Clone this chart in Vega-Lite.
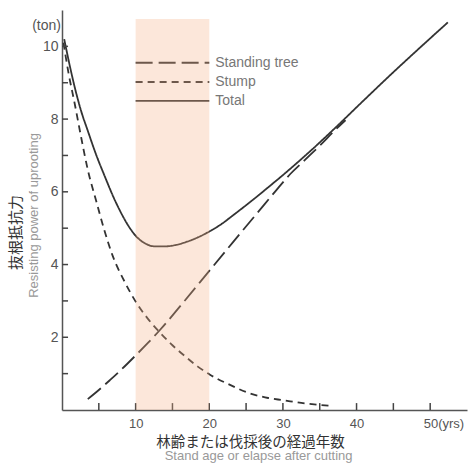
{
  "$schema": "https://vega.github.io/schema/vega-lite/v6.json",
  "width": 405,
  "height": 400,
  "autosize": {"type": "none"},
  "padding": {"left": 62, "top": 10, "right": 8, "bottom": 53},
  "background": "white",
  "config": {"view": {"stroke": null}, "font": "Liberation Sans"},
  "datasets": {
    "curves": [
      {"series": "Total", "x": 0.3, "y": 10.2},
      {"series": "Total", "x": 1, "y": 9.52},
      {"series": "Total", "x": 1.7, "y": 8.9},
      {"series": "Total", "x": 2.6, "y": 8.22},
      {"series": "Total", "x": 3.5, "y": 7.68},
      {"series": "Total", "x": 4.6, "y": 7.04},
      {"series": "Total", "x": 5.8, "y": 6.43},
      {"series": "Total", "x": 7, "y": 5.85},
      {"series": "Total", "x": 8, "y": 5.43},
      {"series": "Total", "x": 9, "y": 5.07},
      {"series": "Total", "x": 10.1, "y": 4.77},
      {"series": "Total", "x": 11.3, "y": 4.58},
      {"series": "Total", "x": 12.6, "y": 4.5},
      {"series": "Total", "x": 14, "y": 4.5},
      {"series": "Total", "x": 15.5, "y": 4.54},
      {"series": "Total", "x": 17, "y": 4.63},
      {"series": "Total", "x": 18.7, "y": 4.77},
      {"series": "Total", "x": 20.1, "y": 4.92},
      {"series": "Total", "x": 21.7, "y": 5.12},
      {"series": "Total", "x": 23.2, "y": 5.35},
      {"series": "Total", "x": 24.8, "y": 5.6},
      {"series": "Total", "x": 26.3, "y": 5.84},
      {"series": "Total", "x": 27.8, "y": 6.09},
      {"series": "Total", "x": 30, "y": 6.46},
      {"series": "Total", "x": 32, "y": 6.81},
      {"series": "Total", "x": 34.1, "y": 7.19},
      {"series": "Total", "x": 36.8, "y": 7.7},
      {"series": "Total", "x": 40.9, "y": 8.5},
      {"series": "Total", "x": 45, "y": 9.29},
      {"series": "Total", "x": 50, "y": 10.22},
      {"series": "Total", "x": 52.4, "y": 10.66},
      {"series": "Standing tree", "x": 3.5, "y": 0.3},
      {"series": "Standing tree", "x": 5, "y": 0.55},
      {"series": "Standing tree", "x": 6.5, "y": 0.82},
      {"series": "Standing tree", "x": 8, "y": 1.1},
      {"series": "Standing tree", "x": 10.1, "y": 1.52},
      {"series": "Standing tree", "x": 11.7, "y": 1.85},
      {"series": "Standing tree", "x": 13.3, "y": 2.2},
      {"series": "Standing tree", "x": 16.4, "y": 2.94},
      {"series": "Standing tree", "x": 20.1, "y": 3.85},
      {"series": "Standing tree", "x": 23.2, "y": 4.61},
      {"series": "Standing tree", "x": 26.9, "y": 5.51},
      {"series": "Standing tree", "x": 29, "y": 6.02},
      {"series": "Standing tree", "x": 31, "y": 6.49},
      {"series": "Standing tree", "x": 33, "y": 6.88},
      {"series": "Standing tree", "x": 35, "y": 7.27},
      {"series": "Standing tree", "x": 37, "y": 7.68},
      {"series": "Standing tree", "x": 38.5, "y": 7.97},
      {"series": "Stump", "x": 0.2, "y": 10.1},
      {"series": "Stump", "x": 0.9, "y": 9.25},
      {"series": "Stump", "x": 1.7, "y": 8.45},
      {"series": "Stump", "x": 2.6, "y": 7.5},
      {"series": "Stump", "x": 3.5, "y": 6.61},
      {"series": "Stump", "x": 4.6, "y": 5.78},
      {"series": "Stump", "x": 5.7, "y": 4.98},
      {"series": "Stump", "x": 6.9, "y": 4.23},
      {"series": "Stump", "x": 8.5, "y": 3.53},
      {"series": "Stump", "x": 10.1, "y": 2.95},
      {"series": "Stump", "x": 11.7, "y": 2.5},
      {"series": "Stump", "x": 13.3, "y": 2.13},
      {"series": "Stump", "x": 15, "y": 1.78},
      {"series": "Stump", "x": 16.7, "y": 1.48},
      {"series": "Stump", "x": 18.4, "y": 1.2},
      {"series": "Stump", "x": 20.1, "y": 0.97},
      {"series": "Stump", "x": 22.5, "y": 0.72},
      {"series": "Stump", "x": 25.5, "y": 0.46},
      {"series": "Stump", "x": 28, "y": 0.33},
      {"series": "Stump", "x": 30, "y": 0.27},
      {"series": "Stump", "x": 33, "y": 0.18},
      {"series": "Stump", "x": 36.2, "y": 0.12}
    ],
    "legend": [
      {"series": "Standing tree", "y": 9.55},
      {"series": "Stump", "y": 9.02},
      {"series": "Total", "y": 8.5}
    ],
    "xticks": [{"v": 5}, {"v": 10}, {"v": 15}, {"v": 20}, {"v": 25}, {"v": 30}, {"v": 35}, {"v": 40}, {"v": 45}, {"v": 50}],
    "yticks": [{"v": 1}, {"v": 2}, {"v": 3}, {"v": 4}, {"v": 5}, {"v": 6}, {"v": 7}, {"v": 8}, {"v": 9}, {"v": 10}],
    "shade": [{"x1": 10, "x2": 20, "y1": 0, "y2": 10.75}],
    "unit": [{"x": 0, "y": 10.57, "label": "(ton)"}],
    "subtitles": [
      {"label": "Stand age or elapse after cutting", "axis": "x"},
      {"label": "Resisting power of uprooting", "axis": "y"}
    ]
  },
  "resolve": {"axis": {"x": "independent", "y": "independent"}},
  "layer": [
    {
      "data": {"name": "curves"},
      "mark": {"type": "line", "interpolate": "monotone", "strokeWidth": 1.8, "color": "#333"},
      "encoding": {
        "x": {
          "field": "x", "type": "quantitative",
          "scale": {"domain": [0, 55], "nice": false, "zero": false},
          "axis": {
            "orient": "bottom",
            "values": [10, 20, 30, 40, 50],
            "labelExpr": "datum.value == 50 ? '50(yrs)' : datum.label",
            "labelOverlap": false,
            "labelFlush": false,
            "tickSize": 0,
            "labelPadding": 7,
            "grid": false,
            "domainColor": "#555", "domainWidth": 1.5,
            "labelFont": "Liberation Sans", "labelFontSize": 13, "labelColor": "#555",
            "labelAlign": {"condition": {"test": "datum.value == 50", "value": "left"}, "value": "center"},
            "labelOffset": {"condition": {"test": "datum.value == 50", "value": -7}, "value": 0},
            "title": "林齢または伐採後の経過年数",
            "titleFont": "Noto Sans CJK JP", "titleFontSize": 14.5, "titleFontWeight": "normal",
            "titleColor": "#333", "titlePadding": 5, "titleX": 188
          }
        },
        "y": {
          "field": "y", "type": "quantitative",
          "scale": {"domain": [0, 11], "nice": false},
          "axis": {
            "orient": "left",
            "values": [2, 4, 6, 8, 10],
            "labelOverlap": false,
            "labelFlush": false,
            "tickSize": 0,
            "labelPadding": 4,
            "grid": false,
            "domainColor": "#555", "domainWidth": 1.5,
            "labelFont": "Liberation Sans", "labelFontSize": 14, "labelColor": "#555",
            "title": "抜根抵抗力",
            "titleFont": "Noto Sans CJK JP", "titleFontSize": 15, "titleFontWeight": "normal",
            "titleColor": "#333", "titlePadding": 19, "titleY": 222
          }
        },
        "strokeDash": {
          "field": "series", "type": "nominal",
          "scale": {"domain": ["Standing tree", "Stump", "Total"], "range": [[17, 6], [7, 5], [1, 0]]},
          "legend": null
        }
      }
    },
    {
      "data": {"name": "xticks"},
      "mark": {"type": "rule", "strokeWidth": 1.5, "color": "#444"},
      "encoding": {
        "x": {"field": "v", "type": "quantitative", "axis": null},
        "y": {"datum": 0, "type": "quantitative", "axis": null},
        "y2": {"datum": 0.19}
      }
    },
    {
      "data": {"name": "yticks"},
      "mark": {"type": "rule", "strokeWidth": 1.5, "color": "#444"},
      "encoding": {
        "y": {"field": "v", "type": "quantitative", "axis": null},
        "x": {"datum": 0, "type": "quantitative", "axis": null},
        "x2": {"datum": 0.82}
      }
    },
    {
      "data": {"name": "unit"},
      "mark": {"type": "text", "align": "right", "baseline": "middle", "dx": -1, "fontSize": 14, "color": "#555", "font": "Liberation Sans"},
      "encoding": {
        "x": {"field": "x", "type": "quantitative", "axis": null},
        "y": {"field": "y", "type": "quantitative", "axis": null},
        "text": {"field": "label"}
      }
    },
    {
      "data": {"name": "legend"},
      "mark": {"type": "rule", "strokeWidth": 1.8, "color": "#333"},
      "encoding": {
        "x": {"datum": 10, "type": "quantitative", "axis": null},
        "x2": {"datum": 20},
        "y": {"field": "y", "type": "quantitative", "axis": null},
        "strokeDash": {"field": "series", "type": "nominal", "legend": null}
      }
    },
    {
      "data": {"name": "legend"},
      "mark": {"type": "text", "align": "left", "baseline": "middle", "dx": 6, "fontSize": 14, "color": "#777", "font": "Liberation Sans"},
      "encoding": {
        "x": {"datum": 20, "type": "quantitative", "axis": null},
        "y": {"field": "y", "type": "quantitative", "axis": null},
        "text": {"field": "series"}
      }
    },
    {
      "data": {"name": "subtitles"},
      "transform": [{"filter": "datum.axis == 'x'"}],
      "mark": {"type": "text", "align": "center", "baseline": "middle", "fontSize": 13, "color": "#999", "font": "Liberation Sans"},
      "encoding": {
        "x": {"datum": 26.7, "type": "quantitative", "axis": null},
        "y": {"datum": -1.27, "type": "quantitative", "axis": null},
        "text": {"field": "label"}
      }
    },
    {
      "data": {"name": "subtitles"},
      "transform": [{"filter": "datum.axis == 'y'"}],
      "mark": {"type": "text", "align": "center", "baseline": "middle", "angle": 270, "fontSize": 13, "color": "#999", "font": "Liberation Sans"},
      "encoding": {
        "x": {"datum": -3.74, "type": "quantitative", "axis": null},
        "y": {"datum": 5.35, "type": "quantitative", "axis": null},
        "text": {"field": "label"}
      }
    },
    {
      "data": {"name": "shade"},
      "mark": {"type": "rect", "color": "#f5af84", "opacity": 0.3},
      "encoding": {
        "x": {"field": "x1", "type": "quantitative", "axis": null},
        "x2": {"field": "x2"},
        "y": {"field": "y1", "type": "quantitative", "axis": null},
        "y2": {"field": "y2"}
      }
    }
  ]
}
